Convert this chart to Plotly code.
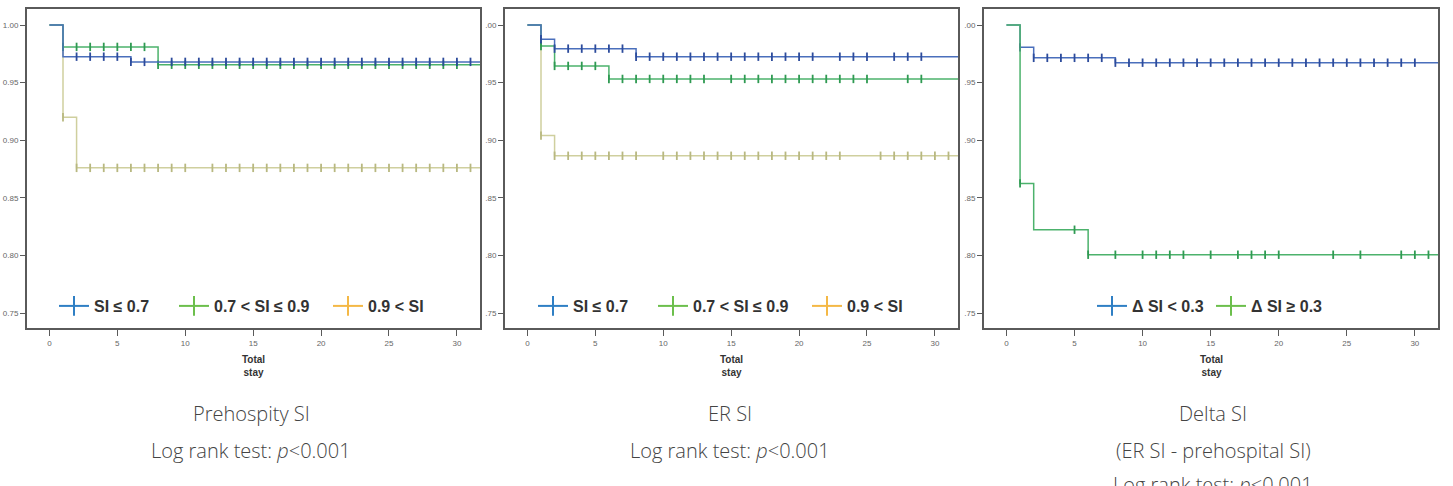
import plotly.graph_objects as go

# ---------------- data ----------------
T_END = 32
tick_vals_y = [0.75, 0.80, 0.85, 0.90, 0.95, 1.00]
tick_text_y1 = ["0.75", "0.80", "0.85", "0.90", "0.95", "1.00"]
tick_text_y23 = [".75", ".80", ".85", ".90", ".95", ".00"]
tick_vals_x = [0, 5, 10, 15, 20, 25, 30]

# Panel 1: Prehospital SI
p1_names = ["SI ≤ 0.7", "0.7 < SI ≤ 0.9", "0.9 < SI"]
p1_blue_t = [0, 1, 6]
p1_blue_s = [1.0, 0.9725, 0.968]
p1_blue_c = [2, 3, 4, 5, 6, 7, 9, 10, 11, 12, 13, 14, 15, 16, 17, 18, 19, 20, 21, 22, 23, 24, 25, 26, 27, 28, 29, 30, 31]
p1_green_t = [0, 1, 8]
p1_green_s = [1.0, 0.981, 0.9655]
p1_green_c = [1, 2, 3, 4, 5, 6, 7, 8, 9, 10, 11, 12, 13, 14, 15, 16, 17, 18, 19, 20, 21, 22, 23, 24, 25, 26, 27, 28, 29, 30]
p1_yel_t = [0, 1, 2]
p1_yel_s = [1.0, 0.92, 0.876]
p1_yel_c = [1, 2, 3, 4, 5, 6, 7, 8, 9, 10, 12, 13, 14, 15, 16, 17, 18, 19, 20, 21, 22, 23, 24, 25, 26, 27, 28, 29, 30, 31]

# Panel 2: ER SI
p2_names = ["SI ≤ 0.7", "0.7 < SI ≤ 0.9", "0.9 < SI"]
p2_blue_t = [0, 1, 2, 8]
p2_blue_s = [1.0, 0.9877, 0.9795, 0.9725]
p2_blue_c = [1, 2, 3, 4, 5, 6, 7, 8, 9, 10, 11, 12, 13, 14, 15, 16, 17, 18, 19, 20, 21, 23, 24, 25, 27, 28, 29]
p2_green_t = [0, 1, 2, 6]
p2_green_s = [1.0, 0.9818, 0.9645, 0.9532]
p2_green_c = [1, 2, 3, 4, 5, 6, 7, 8, 9, 10, 11, 12, 13, 15, 16, 17, 18, 19, 20, 21, 22, 23, 24, 25, 28, 29]
p2_yel_t = [0, 1, 2]
p2_yel_s = [1.0, 0.904, 0.8865]
p2_yel_c = [1, 2, 3, 4, 5, 6, 7, 8, 10, 11, 12, 13, 14, 15, 16, 17, 18, 19, 20, 21, 22, 23, 26, 27, 28, 29, 30, 31]

# Panel 3: Delta SI
p3_names = ["Δ SI < 0.3", "Δ SI ≥ 0.3"]
p3_blue_t = [0, 1, 2, 8]
p3_blue_s = [1.0, 0.9806, 0.9715, 0.9673]
p3_blue_c = [1, 2, 3, 4, 5, 6, 7, 8, 9, 10, 11, 12, 13, 14, 15, 16, 17, 18, 19, 20, 21, 22, 23, 24, 25, 26, 27, 28, 29, 30]
p3_green_t = [0, 1, 2, 6]
p3_green_s = [1.0, 0.8625, 0.8223, 0.8006]
p3_green_c = [1, 5, 6, 8, 10, 11, 12, 13, 15, 17, 18, 19, 20, 24, 26, 29, 30, 31]

captions = [
    ["Prehospity SI", "Log rank test: <i>p</i><0.001"],
    ["ER SI", "Log rank test: <i>p</i><0.001"],
    ["Delta SI", "(ER SI - prehospital SI)", "Log rank test: <i>p</i><0.001"],
]

# ---------------- style ----------------
W, H = 1453, 486
BLUE_L, BLUE_M, BLUE_LEG = "#4a6fbc", "#2c4b9c", "#2f7fc4"
GREEN_L, GREEN_M, GREEN_LEG = "#4cb26c", "#2f9a52", "#6cbf4c"
YEL_L, YEL_M, YEL_LEG = "#cfcf9e", "#b8b880", "#f4b846"
FRAME = "#5a5a5a"

panels_px = [(27, 480), (505, 958), (984, 1438)]
top_px, bot_px = 9, 328
# legend entry widths (px) per panel, per item
leg_widths = [[75, 109, 60], [75, 109, 60], [74, 72]]


def surv_at(ts, ss, t):
    v = ss[0]
    for ti, si in zip(ts, ss):
        if ti <= t:
            v = si
    return v


fig = go.Figure()


def add_series(k, ts, ss, cens, col_line, col_mark):
    xa = "x" if k == 1 else f"x{k}"
    ya = "y" if k == 1 else f"y{k}"
    fig.add_trace(go.Scatter(
        x=list(ts) + [T_END], y=list(ss) + [ss[-1]], mode="lines",
        line=dict(color=col_line, width=1.5, shape="hv"),
        showlegend=False, xaxis=xa, yaxis=ya, hoverinfo="skip"))
    fig.add_trace(go.Scatter(
        x=cens, y=[surv_at(ts, ss, c) for c in cens], mode="markers",
        marker=dict(symbol="line-ns", size=6, line=dict(color=col_mark, width=1.8)),
        showlegend=False, xaxis=xa, yaxis=ya, hoverinfo="skip"))


def add_legend_item(k, name, col, lw):
    xa = "x" if k == 1 else f"x{k}"
    ya = "y" if k == 1 else f"y{k}"
    lg = "legend" if k == 1 else f"legend{k}"
    fig.add_trace(go.Scatter(
        x=[None], y=[None], mode="lines+markers", name=name,
        line=dict(color=col, width=2),
        marker=dict(symbol="line-ns", size=14, line=dict(color=col, width=2)),
        xaxis=xa, yaxis=ya, legend=lg, legendwidth=lw))


# panel 1 (yellow first so blue/green on top)
add_series(1, p1_yel_t, p1_yel_s, p1_yel_c, YEL_L, YEL_M)
add_series(1, p1_green_t, p1_green_s, p1_green_c, GREEN_L, GREEN_M)
add_series(1, p1_blue_t, p1_blue_s, p1_blue_c, BLUE_L, BLUE_M)
for n, c, lw in zip(p1_names, [BLUE_LEG, GREEN_LEG, YEL_LEG], leg_widths[0]):
    add_legend_item(1, n, c, lw)

# panel 2
add_series(2, p2_yel_t, p2_yel_s, p2_yel_c, YEL_L, YEL_M)
add_series(2, p2_green_t, p2_green_s, p2_green_c, GREEN_L, GREEN_M)
add_series(2, p2_blue_t, p2_blue_s, p2_blue_c, BLUE_L, BLUE_M)
for n, c, lw in zip(p2_names, [BLUE_LEG, GREEN_LEG, YEL_LEG], leg_widths[1]):
    add_legend_item(2, n, c, lw)

# panel 3
add_series(3, p3_blue_t, p3_blue_s, p3_blue_c, BLUE_L, BLUE_M)
add_series(3, p3_green_t, p3_green_s, p3_green_c, GREEN_L, GREEN_M)
for n, c, lw in zip(p3_names, [BLUE_LEG, GREEN_LEG], leg_widths[2]):
    add_legend_item(3, n, c, lw)

layout = dict(
    width=W, height=H, margin=dict(l=0, r=0, t=0, b=0),
    paper_bgcolor="white", plot_bgcolor="white",
    font=dict(family="Liberation Sans, Arial, sans-serif", color="#333"),
)

y_dom = [1 - bot_px / H, 1 - top_px / H]
for k, (l, r) in enumerate(panels_px, start=1):
    sx = "" if k == 1 else str(k)
    layout[f"xaxis{sx}"] = dict(
        domain=[l / W, r / W], range=[-1.65, 31.7], anchor=f"y{sx}",
        tickvals=tick_vals_x, ticks="outside", ticklen=6, tickwidth=1.2, tickcolor=FRAME,
        showline=True, linecolor=FRAME, linewidth=2, mirror=True,
        showgrid=False, zeroline=False,
        tickfont=dict(size=8, color="#666"), fixedrange=True)
    layout[f"yaxis{sx}"] = dict(
        domain=y_dom, range=[0.737, 1.0139], anchor=f"x{sx}",
        tickvals=tick_vals_y, ticktext=tick_text_y1 if k == 1 else tick_text_y23,
        ticks="outside", ticklen=5, tickwidth=1.2, tickcolor=FRAME,
        showline=True, linecolor=FRAME, linewidth=2, mirror=True,
        showgrid=False, zeroline=False,
        tickfont=dict(size=8, color="#666"), fixedrange=True)

leg_x = [54, 533, 1092]
for k, lx in enumerate(leg_x, start=1):
    key = "legend" if k == 1 else f"legend{k}"
    layout[key] = dict(
        orientation="h", x=lx / W, xanchor="left", y=1 - 306 / H, yanchor="middle",
        bgcolor="rgba(0,0,0,0)", itemwidth=30,
        font=dict(family="Liberation Sans, Arial, sans-serif", size=16, color="#333", weight="bold"),
        tracegroupgap=0)

fig.update_layout(**layout)

# axis titles "Total stay"
centers = [(l + r) / 2 for l, r in panels_px]
for cx in centers:
    fig.add_annotation(
        x=cx / W, y=1 - 366 / H, xref="paper", yref="paper",
        text="<b>Total<br>stay</b>", showarrow=False,
        font=dict(family="Liberation Sans, Arial, sans-serif", size=10, color="#333"),
        xanchor="center", yanchor="middle")

# captions
cap_centers = [251, 730, 1213]
line_y = [413, 450, 484]
for cx, lines in zip(cap_centers, captions):
    for i, txt in enumerate(lines):
        fig.add_annotation(
            x=cx / W, y=1 - line_y[i] / H, xref="paper", yref="paper",
            text=txt, showarrow=False,
            font=dict(family="Open Sans, sans-serif", size=20, color="#444", weight=300),
            xanchor="center", yanchor="middle")

fig.write_html("out.html")
